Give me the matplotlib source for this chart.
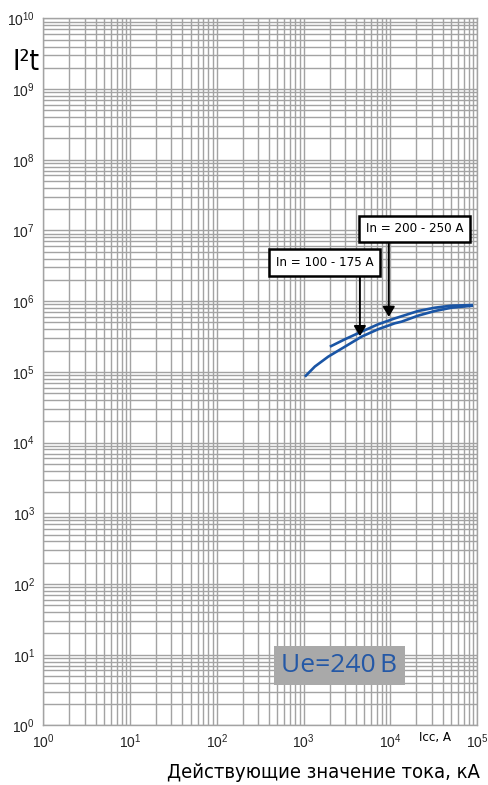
import numpy as np
import matplotlib
matplotlib.use("Agg")
import matplotlib.pyplot as plt
from matplotlib import font_manager as fm
from matplotlib.ticker import LogLocator, LogFormatterMathtext, NullFormatter

# curve In = 100 - 175 A
low_x = [1035, 1349, 1920, 2990, 4660, 7230, 11270, 13460, 20900, 32570, 50700, 89900]
low_y = [8.55e4, 1.19e5, 1.64e5, 2.27e5, 3.15e5, 4.01e5, 4.87e5, 5.13e5, 6.24e5, 7.26e5, 8.09e5, 8.64e5]
# curve In = 200 - 250 A
up_x = [2010, 2990, 4660, 7230, 11270, 20900, 32570, 50700, 89900]
up_y = [2.27e5, 2.89e5, 3.71e5, 4.71e5, 5.71e5, 7.26e5, 8.09e5, 8.64e5, 8.83e5]

labels = ["In = 100 - 175 A", "In = 200 - 250 A"]
arrow_x = [4460, 9600]
arrow_tip = [3.2e5, 6.0e5]

# pick fonts that exist here
names = {f.name for f in fm.fontManager.ttflist}
cond = any(f.name == 'DejaVu Sans' and f.stretch == 'condensed' for f in fm.fontManager.ttflist)
if 'Liberation Sans Narrow' in names:
    narrow = dict(family=['Liberation Sans Narrow', 'DejaVu Sans'])
elif cond:
    narrow = dict(family=['DejaVu Sans'], fontstretch='condensed')
else:
    narrow = dict(family=['Roboto', 'DejaVu Sans'])
plain = 'Liberation Sans' if 'Liberation Sans' in names else 'DejaVu Sans'

plt.rcParams['font.family'] = [plain, 'DejaVu Sans']
plt.rcParams['mathtext.fontset'] = 'custom'
plt.rcParams['mathtext.rm'] = plain
plt.rcParams['mathtext.default'] = 'regular'

grid_c = "#a3a3a3"
blue = "#1a55a5"

fig = plt.figure(figsize=(4.89, 7.85), dpi=100)
ax = fig.add_axes([0.0886, 0.0759, 0.8870, 0.9007])
ax.set_xscale('log')
ax.set_yscale('log')
ax.set_xlim(1, 1e5)
ax.set_ylim(1, 1e10)

ax.xaxis.set_major_locator(LogLocator(base=10, numticks=20))
ax.yaxis.set_major_locator(LogLocator(base=10, numticks=20))
ax.xaxis.set_minor_locator(LogLocator(base=10, subs=np.arange(2, 10), numticks=20))
ax.yaxis.set_minor_locator(LogLocator(base=10, subs=np.arange(2, 10), numticks=20))
ax.xaxis.set_major_formatter(LogFormatterMathtext())
ax.yaxis.set_major_formatter(LogFormatterMathtext())
ax.xaxis.set_minor_formatter(NullFormatter())
ax.yaxis.set_minor_formatter(NullFormatter())
ax.grid(True, which='both', color=grid_c, lw=1.0)
ax.set_axisbelow(True)
ax.tick_params(which='both', length=0, labelsize=10, colors='#222222')
ax.tick_params(which='minor', labelbottom=False, labelleft=False)
ax.tick_params(axis='x', pad=5)
ax.tick_params(axis='y', pad=6)
for s in ax.spines.values():
    s.set_color(grid_c)
    s.set_linewidth(1.0)

ax.plot(low_x, low_y, color=blue, lw=1.9, solid_capstyle='butt')
ax.plot(up_x, up_y, color=blue, lw=1.9, solid_capstyle='butt')

# label boxes and arrows
box_pos = [(10**3.24, 10**6.547), (10**4.282, 10**7.024)]
box_bottom = [10**6.347, 10**6.828]
for lab, (bx, by), ax_x, tip, bb in zip(labels, box_pos, arrow_x, arrow_tip, box_bottom):
    ax.text(bx, by, lab, ha='center', va='center', fontsize=9.5, **narrow,
            bbox=dict(boxstyle='square,pad=0.5', fc='white', ec='black', lw=1.8), zorder=5)
    ax.annotate('', xy=(ax_x, tip), xytext=(ax_x, bb),
                arrowprops=dict(arrowstyle='-|>,head_length=0.5,head_width=0.3',
                                color='black', lw=1.4, mutation_scale=12,
                                shrinkA=0, shrinkB=0), zorder=4)

ax.text(10**3.412, 10**0.847, "Ue=240\u2009B", ha='center', va='center', fontsize=19,
        color="#2458a6", family=['Open Sans', 'DejaVu Sans'],
        bbox=dict(boxstyle='square,pad=0.28', fc='#a9a9a9', ec='none'), zorder=5)

fig.text(435 / 489, 1 - 737 / 785, "Icc, A", ha='center', va='center', fontsize=9.5, **narrow)
fig.text(13 / 489, 1 - 62 / 785, "I\u00b2t", ha='left', va='center', fontsize=20, **narrow)
fig.text(480 / 489, 1 - 773 / 785, "Действующие значение тока, кА", ha='right', va='center',
         fontsize=14.5, **narrow)

fig.savefig("out.png", dpi=100)
